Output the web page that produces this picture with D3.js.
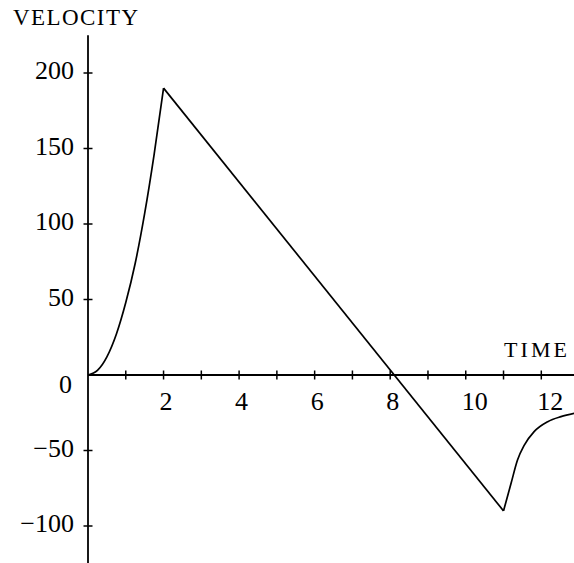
<!DOCTYPE html>
<html>
<head>
<meta charset="utf-8">
<script src="https://cdn.jsdelivr.net/npm/d3@7"></script>
<style>
  html, body { margin: 0; padding: 0; background: #fff; }
  svg { display: block; }
  text { font-family: "Liberation Serif", "Times New Roman", serif; fill: #000; }
</style>
</head>
<body>
<svg id="chart" width="574" height="563"></svg>
<script>
// ---- data ----
const accelTime = [0, 0.25, 0.5, 0.75, 1, 1.25, 1.5, 1.75, 2];
const accelVel  = [0, 3, 12, 27, 48, 74, 107, 146, 190];
const coastTime = [2, 11];
const coastVel  = [190, -90];
const chuteTime = [11, 11.2, 11.37, 11.55, 11.81, 12.17, 12.52, 12.87];
const chuteVel  = [-90, -71.7, -56.3, -46.4, -37.5, -30.9, -27.6, -25.4];

const xTicks = [1,2,3,4,5,6,7,8,9,10,11,12];
const xTickLabels = [2,4,6,8,10,12];
const yTicks = [-100,-50,50,100,150,200];
const yTickLabels = ["−100","−50","50","100","150","200"];
const xTitle = "TIME";
const yTitle = "VELOCITY";

// ---- layout ----
const svg = d3.select("#chart");
const x = d3.scaleLinear().domain([0, 12]).range([88, 541.3]);
const y = d3.scaleLinear().domain([0, 200]).range([375, 73]);
const xEnd = 12.87, yTop = 225, yBottom = -124.5;

// axes lines
svg.append("line")
  .attr("x1", x(0)).attr("x2", x(xEnd))
  .attr("y1", y(0)).attr("y2", y(0))
  .attr("stroke", "#000").attr("stroke-width", 1.8);
svg.append("line")
  .attr("x1", x(0)).attr("x2", x(0))
  .attr("y1", y(yTop)).attr("y2", y(yBottom))
  .attr("stroke", "#000").attr("stroke-width", 1.8);

// x ticks (crossing)
svg.append("g").selectAll("line").data(xTicks).join("line")
  .attr("x1", d => x(d)).attr("x2", d => x(d))
  .attr("y1", y(0) - 4.5).attr("y2", y(0) + 4.5)
  .attr("stroke", "#000").attr("stroke-width", 1.5);
// y ticks (crossing)
svg.append("g").selectAll("line").data(yTicks).join("line")
  .attr("x1", x(0) - 4.5).attr("x2", x(0) + 4.5)
  .attr("y1", d => y(d)).attr("y2", d => y(d))
  .attr("stroke", "#000").attr("stroke-width", 1.5);

// x tick labels
svg.append("g").selectAll("text").data(xTickLabels).join("text")
  .attr("x", d => x(d) - 4).attr("y", y(0) + 35)
  .attr("font-size", 26)
  .text(d => d);
// y tick labels
svg.append("g").selectAll("text").data(yTicks).join("text")
  .attr("x", 74).attr("y", d => y(d) + 6)
  .attr("text-anchor", "end")
  .attr("font-size", 26)
  .text((d, i) => yTickLabels[i]);
svg.append("text")
  .attr("x", 72).attr("y", y(0) + 18)
  .attr("text-anchor", "end").attr("font-size", 26)
  .text("0");

// titles
svg.append("text")
  .attr("x", 13).attr("y", 25)
  .attr("font-size", 23)
  .attr("textLength", 125).attr("lengthAdjust", "spacing")
  .text(yTitle);
svg.append("text")
  .attr("x", 504).attr("y", 357)
  .attr("font-size", 22)
  .attr("textLength", 63).attr("lengthAdjust", "spacing")
  .text(xTitle);

// curve segments, drawn separately so corners stay sharp
const line = d3.line().x(d => x(d[0])).y(d => y(d[1])).curve(d3.curveMonotoneX);
const segs = [
  d3.zip(accelTime, accelVel),
  d3.zip(coastTime, coastVel),
  d3.zip(chuteTime, chuteVel)
];
svg.append("g").selectAll("path").data(segs).join("path")
  .attr("d", d => line(d))
  .attr("fill", "none")
  .attr("stroke", "#000")
  .attr("stroke-width", 1.7)
  .attr("stroke-linejoin", "miter");
</script>
</body>
</html>
